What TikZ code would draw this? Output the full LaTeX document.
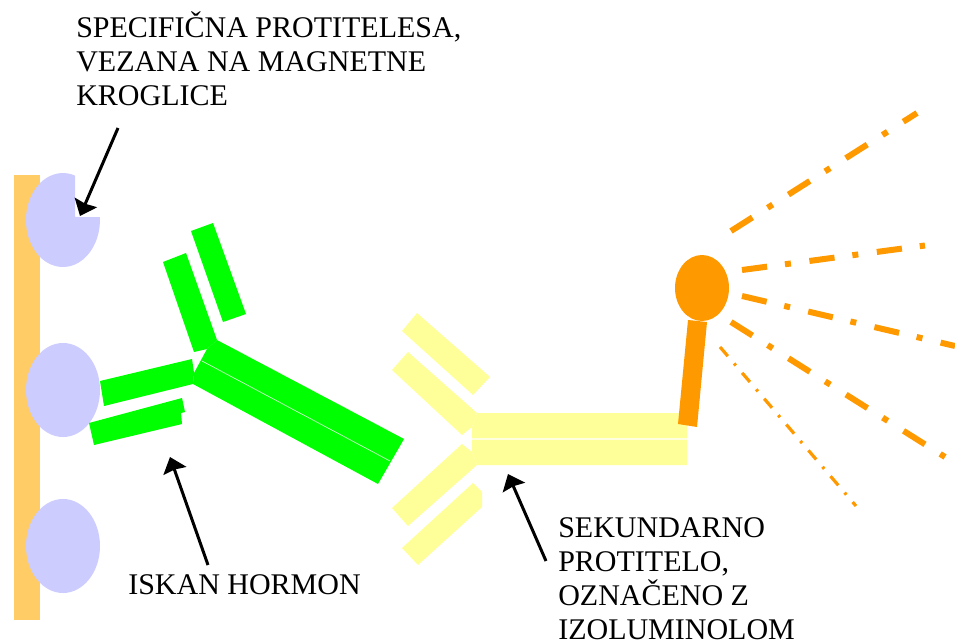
\documentclass[tikz,border=0pt]{standalone}
\usepackage{fontspec}
\setmainfont{Liberation Serif}
\usetikzlibrary{arrows.meta,shapes.geometric}
\definecolor{podlaga}{HTML}{FFCC66}
\definecolor{kroglica}{HTML}{CCCCFF}
\definecolor{zelena}{HTML}{00FF00}
\definecolor{rumena}{HTML}{FFFF99}
\definecolor{oranzna}{HTML}{FF9900}
\tikzset{
	disc/.style={ellipse,inner sep=0pt,minimum width=55.5pt,minimum height=70.5pt,fill=kroglica},
	lumin/.style={ellipse,inner sep=0pt,minimum width=40.5pt,minimum height=49.5pt,fill=oranzna},
	pointer/.style={draw=black,line width=2.25pt,-{Stealth[length=11pt,width=18pt,inset=1pt]}},
	ray/.style={draw=oranzna,line width=4.5pt,dash pattern=on 19pt off 13.5pt on 4.5pt off 14pt},
	thinray/.style={draw=oranzna,line width=2.4pt,dash pattern=on 9pt off 7.25pt on 2pt off 7.25pt},
	seam/.style={draw=white,line width=0.5pt,opacity=0.8},
	yseam/.style={draw=rumena!30!white,line width=0.8pt},
	caption/.style={anchor=base west,inner sep=0pt,align=left,font=\fontsize{22.5}{25.5}\selectfont}
}

\begin{document}
\begin{tikzpicture}[x=0.75pt,y=-0.75pt]
	\useasboundingbox (0,0) rectangle (955,641);

	% bar and beads
	\fill[podlaga] (14,175) rectangle (40,620);
	\fill[kroglica] (75,217) -- (75,175.6) arc[start angle=-71,end angle=-363.7,x radius=37,y radius=47] -- cycle;
	\node [disc] (bead2) at (63,390) {};
	\node [disc] (bead3) at (63,546) {};

	% green antibody
	\fill[zelena] (191,231) -- (213,223) -- (246,314) -- (223,322) -- cycle;
	\fill[zelena] (163,262) -- (186,253) -- (217,340) -- (207,349) -- (194,352) -- cycle;
	\fill[zelena] (217,340) -- (404,439) -- (378,484) -- (193,384) -- (194,373) -- (207,349) -- cycle;
	\fill[zelena] (100,381) -- (192,359) -- (194,373) -- (193,384) -- (104,406) -- cycle;
	\fill[zelena] (89,423) -- (182,398) -- (185,412) -- (181,413) -- (182,424) -- (94,445) -- cycle;
	\draw[seam] (202,361) -- (390,461);

	% yellow antibody
	\fill[rumena] (417,313) -- (490,377) -- (473,395) -- (402,331) -- cycle;
	\fill[rumena] (408,352) -- (477,413) -- (472,427) -- (462,435) -- (392,370) -- cycle;
	\fill[rumena] (477,413) -- (687,413) -- (687,465) -- (477,465) -- (472,452) -- (472,427) -- cycle;
	\fill[rumena] (462,444) -- (472,452) -- (477,465) -- (408,526) -- (392,508) -- cycle;
	\fill[rumena] (473,483) -- (482,492) -- (482,507) -- (418,565) -- (402,548) -- cycle;
	\draw[yseam] (472,439) -- (687,439);

	% label on the stem
	\fill[oranzna] (688,320) -- (707,322) -- (697,427) -- (678,424) -- cycle;
	\node [lumin] (lumin) at (702,288) {};

	% light
	\coordinate (r1a) at (731,231);
	\coordinate (r1b) at (917,113);
	\coordinate (r2a) at (742,270);
	\coordinate (r2b) at (925,245.5);
	\coordinate (r3a) at (742,296);
	\coordinate (r3b) at (955,346);
	\coordinate (r4a) at (731,322);
	\coordinate (r4b) at (945,457);
	\coordinate (r5a) at (720,347);
	\coordinate (r5b) at (856,506);
	\draw[ray] (r1a) -- (r1b);
	\draw[ray] (r2a) -- (r2b);
	\draw[ray] (r3a) -- (r3b);
	\draw[ray] (r4a) -- (r4b);
	\draw[thinray] (r5a) -- (r5b);

	% captions
	\node [caption] (beads) at (76,106) {SPECIFIČNA PROTITELESA,\\VEZANA NA MAGNETNE\\KROGLICE};
	\node [caption] (hormone) at (128,594) {ISKAN HORMON};
	\node [caption] (second) at (558,639) {SEKUNDARNO\\PROTITELO,\\OZNAČENO Z\\IZOLUMINOLOM};

	% pointers
	\coordinate (p1a) at (118,128);
	\coordinate (p1b) at (80,216);
	\coordinate (p2a) at (208,565);
	\coordinate (p2b) at (170,457);
	\coordinate (p3a) at (546,561);
	\coordinate (p3b) at (508,474);
	\draw[pointer] (p1a) -- (p1b);
	\draw[pointer] (p2a) -- (p2b);
	\draw[pointer] (p3a) -- (p3b);
\end{tikzpicture}
\end{document}
